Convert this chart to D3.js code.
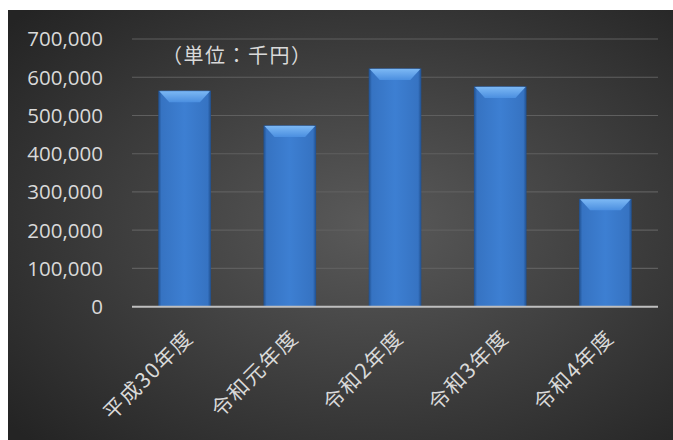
<!DOCTYPE html>
<html>
<head>
<meta charset="utf-8">
<script src="https://cdn.jsdelivr.net/npm/d3@7"></script>
<style>
  body { margin: 0; background: #fff; }
  svg text { font-family: "Open Sans", "Noto Sans CJK JP", sans-serif; fill: #d9d9d9; }
  svg text.jp { font-family: "Noto Sans CJK JP", sans-serif; }
</style>
</head>
<body>
<svg id="chart"></svg>
<script>
let svgWidth = 673, svgHeight = 440

// data
const categories = ['平成30年度', '令和元年度', '令和2年度', '令和3年度', '令和4年度']
const values = [565000, 474000, 623000, 576000, 282000]
const yTicks = [0, 100000, 200000, 300000, 400000, 500000, 600000, 700000]
const unitLabel = '（単位：千円）'

let svg = d3.select('#chart').attr('width', svgWidth).attr('height', svgHeight)
let defs = svg.append('defs')

let bg = defs.append('radialGradient').attr('id', 'bgGrad')
  .attr('cx', '55%').attr('cy', '50%').attr('r', '72%')
bg.append('stop').attr('offset', '0%').attr('stop-color', '#5a5a5a')
bg.append('stop').attr('offset', '100%').attr('stop-color', '#242424')

let barGrad = defs.append('linearGradient').attr('id', 'barGrad')
  .attr('x1', 0).attr('x2', 1).attr('y1', 0).attr('y2', 0)
barGrad.append('stop').attr('offset', '0%').attr('stop-color', '#1f4f8e')
barGrad.append('stop').attr('offset', '6%').attr('stop-color', '#3673c2')
barGrad.append('stop').attr('offset', '50%').attr('stop-color', '#3d7fd2')
barGrad.append('stop').attr('offset', '94%').attr('stop-color', '#3673c2')
barGrad.append('stop').attr('offset', '100%').attr('stop-color', '#1f4f8e')

let topGrad = defs.append('linearGradient').attr('id', 'topGrad')
  .attr('x1', 0).attr('x2', 0).attr('y1', 0).attr('y2', 1)
topGrad.append('stop').attr('offset', '0%').attr('stop-color', '#7cb8f4')
topGrad.append('stop').attr('offset', '100%').attr('stop-color', '#4b8fe0')

svg.append('rect').attr('x', 8).attr('y', 10)
  .attr('width', svgWidth - 8).attr('height', svgHeight - 10)
  .attr('fill', 'url(#bgGrad)')

let x = d3.scaleBand().domain(categories).range([132, 658])
  .paddingInner(0.5).paddingOuter(0.25)
let y = d3.scaleLinear().domain([0, 700000]).range([306.7, 39])

// grid
svg.append('g').selectAll('line').data(yTicks.slice(1)).enter().append('line')
  .attr('x1', 132).attr('x2', 658)
  .attr('y1', d => y(d)).attr('y2', d => y(d))
  .attr('stroke', '#5f5f5f').attr('stroke-width', 1.2)

// y labels
svg.append('g').selectAll('text').data(yTicks).enter().append('text')
  .attr('x', 103).attr('y', d => y(d))
  .attr('dy', '0.36em')
  .attr('text-anchor', 'end')
  .style('font-size', '20.5px')
  .text(d => d3.format(',')(d))

// bars
let bars = svg.append('g').selectAll('g').data(values).enter().append('g')
bars.append('rect')
  .attr('x', (d, i) => x(categories[i]))
  .attr('y', d => y(d))
  .attr('width', x.bandwidth())
  .attr('height', d => y(0) - y(d))
  .attr('fill', 'url(#barGrad)')
bars.append('path')
  .attr('d', (d, i) => {
    let x0 = x(categories[i]) + 1, x1 = x(categories[i]) + x.bandwidth() - 1, t = y(d) + 0.5
    return `M${x0},${t}L${x1},${t}L${x1 - 10},${t + 11}L${x0 + 10},${t + 11}Z`
  })
  .attr('fill', 'url(#topGrad)')

// axis line
svg.append('line').attr('x1', 132).attr('x2', 658)
  .attr('y1', y(0)).attr('y2', y(0))
  .attr('stroke', '#bfbfbf').attr('stroke-width', 2)

// x labels
svg.append('g').selectAll('text').data(categories).enter().append('text')
  .attr('class', 'jp')
  .attr('text-anchor', 'end')
  .attr('transform', d => `translate(${x(d) + x.bandwidth() / 2 + 10},${339}) rotate(-45)`)
  .style('font-size', '21px')
  .style('letter-spacing', '1.5px')
  .text(d => d)

svg.append('text').attr('class', 'jp').attr('x', 162).attr('y', 63)
  .style('font-size', '20px')
  .style('letter-spacing', '1.5px')
  .text(unitLabel)
</script>
</body>
</html>
